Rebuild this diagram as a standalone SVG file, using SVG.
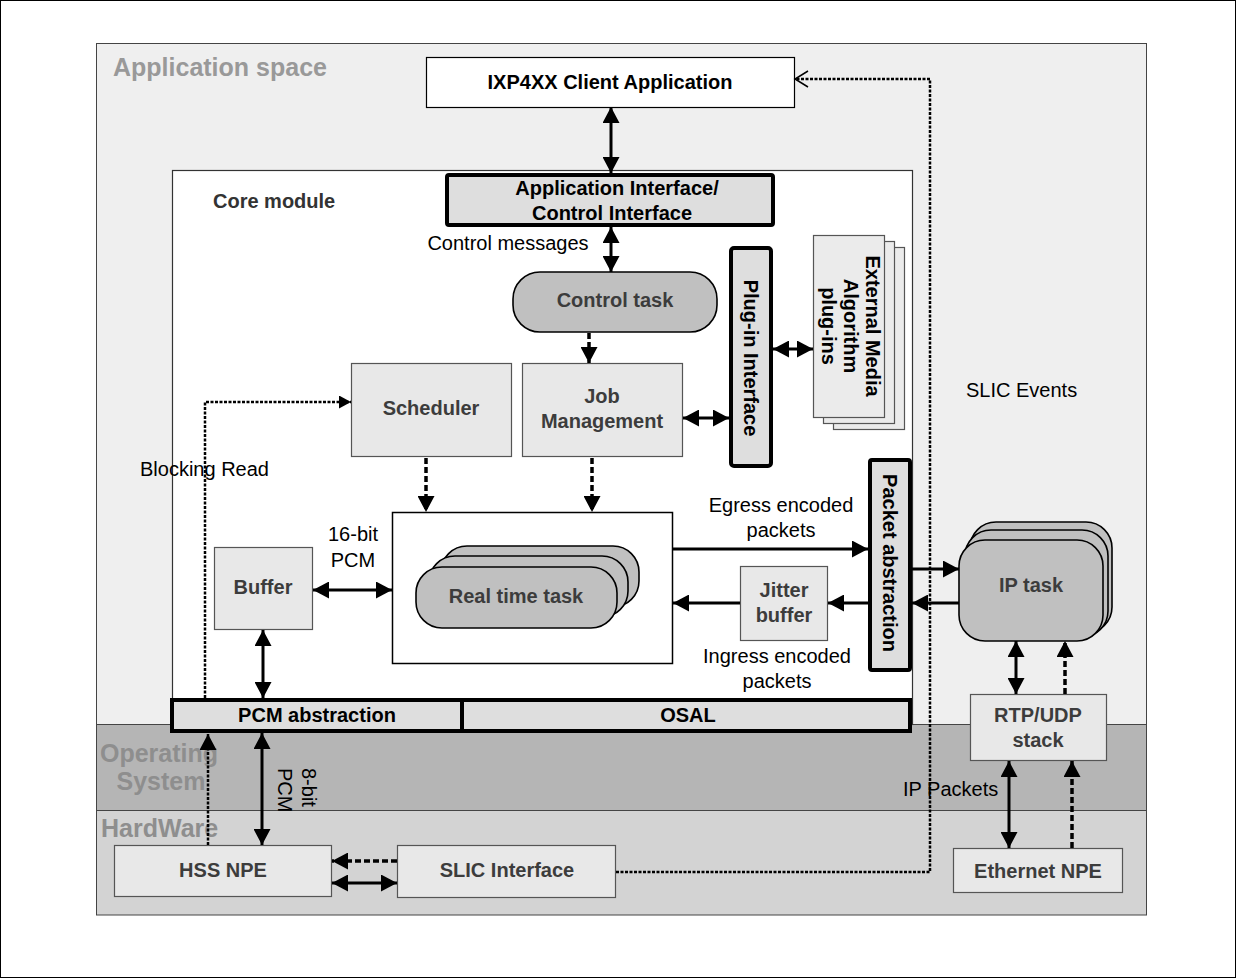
<svg xmlns="http://www.w3.org/2000/svg" width="1236" height="978" viewBox="0 0 1236 978">
  <style>
    .b { font-family: 'Liberation Sans', Arial, sans-serif; font-weight: bold; font-size: 20px; }
    .r { font-family: 'Liberation Sans', Arial, sans-serif; font-size: 20px; fill: #000; }
    .dk { fill: #3c3c3c; }
    .bk { fill: #000; }
    .layer { font-family: 'Liberation Sans', Arial, sans-serif; font-weight: bold; font-size: 25px; fill: #8e8e8e; }
    .box { fill: #e8e8e8; stroke: #555; stroke-width: 1.2; }
    .bar { fill: #dedede; stroke: #000; stroke-width: 4; }
    .task { fill: #c0c0c0; stroke: #000; stroke-width: 1.6; }
    .page { fill: #ebebeb; stroke: #555; stroke-width: 1.2; }
    .solid { fill: none; stroke: #000; stroke-width: 3; }
    .dash { fill: none; stroke: #000; stroke-width: 3.5; stroke-dasharray: 6 3; }
    .dot { fill: none; stroke: #000; stroke-width: 2.5; stroke-dasharray: 3 1.5; }
  </style>
  <defs>
    <marker id="ah" markerUnits="userSpaceOnUse" markerWidth="16" markerHeight="17" viewBox="0 0 16 17" refX="16" refY="8.5" orient="auto-start-reverse">
      <path d="M0,0 L16,8.5 L0,17 z" fill="#000"/>
    </marker>
    <marker id="ahs" markerUnits="userSpaceOnUse" markerWidth="12" markerHeight="13" viewBox="0 0 12 13" refX="12" refY="6.5" orient="auto">
      <path d="M0,0 L12,6.5 L0,13 z" fill="#000"/>
    </marker>
  </defs>

  <!-- page border -->
  <rect x="0.5" y="0.5" width="1235" height="977" fill="#fff" stroke="#000" stroke-width="1"/>

  <!-- layers: application space, operating system, hardware -->
  <g id="layers">
    <rect x="96.5" y="43.5" width="1050" height="681" fill="#efefef"/>
    <rect x="96.5" y="724.5" width="1050" height="86" fill="#b5b5b5"/>
    <rect x="96.5" y="810.5" width="1050" height="104.5" fill="#d3d3d3"/>
    <line x1="96.5" y1="724.5" x2="1146.5" y2="724.5" stroke="#444" stroke-width="1"/>
    <line x1="96.5" y1="810.5" x2="1146.5" y2="810.5" stroke="#444" stroke-width="1"/>
    <rect x="96.5" y="43.5" width="1050" height="871.5" fill="none" stroke="#444" stroke-width="1"/>
    <text class="layer" x="113" y="76" fill="#999" style="fill:#999">Application space</text>
    <text class="layer" x="159" y="762" text-anchor="middle">Operating</text>
    <text class="layer" x="161" y="790" text-anchor="middle">System</text>
    <text class="layer" x="101" y="837">HardWare</text>
  </g>

  <!-- core module frame -->
  <g id="core-module">
    <rect x="172.5" y="170.5" width="740" height="554" fill="#fff" stroke="#333" stroke-width="1.2"/>
    <text class="b" x="213" y="208" fill="#333" font-size="22">Core module</text>
  </g>

  <g id="client-app">
    <rect x="426.5" y="57.5" width="368" height="50" fill="#fff" stroke="#000" stroke-width="1.2"/>
    <text class="b bk" x="610" y="89" text-anchor="middle">IXP4XX Client Application</text>
  </g>

  <g id="app-interface">
    <rect class="bar" x="447" y="175" width="326" height="50" rx="2"/>
    <text class="b bk" x="617" y="195" text-anchor="middle" font-size="21">Application Interface/</text>
    <text class="b bk" x="612" y="220" text-anchor="middle">Control Interface</text>
  </g>

  <g id="control-task">
    <rect class="task" x="513" y="272" width="204" height="60" rx="27"/>
    <text class="b dk" x="615" y="307" text-anchor="middle">Control task</text>
  </g>

  <g id="scheduler">
    <rect class="box" x="351.5" y="363.5" width="160" height="93"/>
    <text class="b dk" x="431" y="415" text-anchor="middle">Scheduler</text>
  </g>

  <g id="job-management">
    <rect class="box" x="522.5" y="363.5" width="160" height="93"/>
    <text class="b dk" x="602" y="403" text-anchor="middle">Job</text>
    <text class="b dk" x="602" y="428" text-anchor="middle">Management</text>
  </g>

  <g id="plugin-interface">
    <rect class="bar" x="731" y="248" width="40" height="218" rx="3"/>
    <text class="b bk" transform="translate(751,358) rotate(90)" x="0" y="7" text-anchor="middle">Plug-in Interface</text>
  </g>

  <g id="external-plugins">
    <rect class="page" x="833.5" y="247.5" width="71" height="182"/>
    <rect class="page" x="823.5" y="241.5" width="71" height="182"/>
    <rect class="page" x="813.5" y="235.5" width="71" height="182"/>
    <g transform="translate(0,326) rotate(90)">
      <text class="b bk" x="0" y="-866" text-anchor="middle">External Media</text>
      <text class="b bk" x="0" y="-844" text-anchor="middle">Algorithm</text>
      <text class="b bk" x="0" y="-822" text-anchor="middle">plug-ins</text>
    </g>
  </g>

  <g id="realtime-tasks">
    <rect x="392.5" y="512.5" width="280" height="151" fill="#fff" stroke="#000" stroke-width="1.5"/>
    <rect class="task" x="441" y="546" width="198" height="61" rx="26"/>
    <rect class="task" x="429" y="556" width="199" height="61" rx="26"/>
    <rect class="task" x="416" y="567" width="201" height="61" rx="26"/>
    <text class="b dk" x="516" y="603" text-anchor="middle">Real time task</text>
  </g>

  <g id="buffer">
    <rect class="box" x="214.5" y="547.5" width="98" height="82"/>
    <text class="b dk" x="263" y="594" text-anchor="middle">Buffer</text>
  </g>

  <g id="jitter-buffer">
    <rect class="box" x="740.5" y="566.5" width="87" height="74"/>
    <text class="b dk" x="784" y="597" text-anchor="middle">Jitter</text>
    <text class="b dk" x="784" y="622" text-anchor="middle">buffer</text>
  </g>

  <g id="packet-abstraction">
    <rect class="bar" x="870" y="460" width="40" height="210" rx="2"/>
    <text class="b bk" transform="translate(890,563) rotate(90)" x="0" y="7" text-anchor="middle">Packet abstraction</text>
  </g>

  <g id="pcm-abstraction">
    <rect class="bar" x="172" y="700" width="290" height="31"/>
    <text class="b bk" x="317" y="722" text-anchor="middle">PCM abstraction</text>
  </g>

  <g id="osal">
    <rect class="bar" x="462" y="700" width="448" height="31"/>
    <text class="b bk" x="688" y="722" text-anchor="middle">OSAL</text>
  </g>

  <g id="ip-task">
    <rect class="task" x="970" y="522" width="142" height="111" rx="26"/>
    <rect class="task" x="965" y="530" width="143" height="107" rx="26"/>
    <rect class="task" x="959" y="540" width="144" height="101" rx="26"/>
    <text class="b dk" x="1031" y="592" text-anchor="middle">IP task</text>
  </g>

  <g id="rtp-udp">
    <rect class="box" x="970.5" y="694.5" width="136" height="66"/>
    <text class="b dk" x="1038" y="722" text-anchor="middle">RTP/UDP</text>
    <text class="b dk" x="1038" y="747" text-anchor="middle">stack</text>
  </g>

  <g id="ethernet-npe">
    <rect class="box" x="953.5" y="848.5" width="169" height="44"/>
    <text class="b dk" x="1038" y="878" text-anchor="middle">Ethernet NPE</text>
  </g>

  <g id="hss-npe">
    <rect class="box" x="114.5" y="845.5" width="217" height="51"/>
    <text class="b dk" x="223" y="877" text-anchor="middle">HSS NPE</text>
  </g>

  <g id="slic-interface">
    <rect class="box" x="397.5" y="845.5" width="218" height="52"/>
    <text class="b dk" x="507" y="877" text-anchor="middle">SLIC Interface</text>
  </g>

  <!-- connectors -->
  <g id="connectors">
    <line class="solid" x1="611" y1="107" x2="611" y2="173" marker-start="url(#ah)" marker-end="url(#ah)"/>
    <line class="solid" x1="611" y1="227" x2="611" y2="272" marker-start="url(#ah)" marker-end="url(#ah)"/>
    <line class="dash" x1="589" y1="333" x2="589" y2="363" marker-end="url(#ah)"/>
    <line class="solid" x1="683" y1="418" x2="729" y2="418" marker-start="url(#ah)" marker-end="url(#ah)"/>
    <line class="solid" x1="773" y1="349" x2="813" y2="349" marker-start="url(#ah)" marker-end="url(#ah)"/>
    <line class="dash" x1="426" y1="458" x2="426" y2="512" marker-end="url(#ah)"/>
    <line class="dash" x1="592" y1="458" x2="592" y2="512" marker-end="url(#ah)"/>
    <line class="solid" x1="313" y1="590" x2="392" y2="590" marker-start="url(#ah)" marker-end="url(#ah)"/>
    <line class="solid" x1="263" y1="630" x2="263" y2="698" marker-start="url(#ah)" marker-end="url(#ah)"/>
    <line class="solid" x1="673" y1="549" x2="868" y2="549" marker-end="url(#ah)"/>
    <line class="solid" x1="868" y1="603" x2="828" y2="603" marker-end="url(#ah)"/>
    <line class="solid" x1="740" y1="603" x2="673" y2="603" marker-end="url(#ah)"/>
    <line class="solid" x1="912" y1="569" x2="959" y2="569" marker-end="url(#ah)"/>
    <line class="solid" x1="959" y1="603" x2="912" y2="603" marker-end="url(#ah)"/>
    <line class="solid" x1="1016" y1="641" x2="1016" y2="694" marker-start="url(#ah)" marker-end="url(#ah)"/>
    <line class="dash" x1="1065" y1="694" x2="1065" y2="641" marker-end="url(#ah)"/>
    <line class="solid" x1="1009" y1="761" x2="1009" y2="848" marker-start="url(#ah)" marker-end="url(#ah)"/>
    <line class="dash" x1="1072" y1="848" x2="1072" y2="761" marker-end="url(#ah)"/>
    <line class="dash" x1="397" y1="861" x2="332" y2="861" marker-end="url(#ah)"/>
    <line class="solid" x1="332" y1="883" x2="397" y2="883" marker-start="url(#ah)" marker-end="url(#ah)"/>
    <line class="solid" x1="262" y1="733" x2="262" y2="845" marker-start="url(#ah)" marker-end="url(#ah)"/>
    <line class="dot" x1="208" y1="845" x2="208" y2="734" marker-end="url(#ah)"/>
    <path class="dot" d="M205,698 V402 H351" marker-end="url(#ahs)"/>
    <path class="dot" d="M616,872 H930 V79 H796"/>
    <path d="M808,71 L795,79 L808,87" fill="none" stroke="#000" stroke-width="1.5"/>
  </g>

  <!-- connector labels -->
  <g id="labels">
    <text class="r" x="508" y="250" text-anchor="middle">Control messages</text>
    <text class="r" x="140" y="476">Blocking Read</text>
    <text class="r" x="353" y="541" text-anchor="middle">16-bit</text>
    <text class="r" x="353" y="567" text-anchor="middle">PCM</text>
    <text class="r" x="781" y="512" text-anchor="middle">Egress encoded</text>
    <text class="r" x="781" y="537" text-anchor="middle">packets</text>
    <text class="r" x="777" y="663" text-anchor="middle">Ingress encoded</text>
    <text class="r" x="777" y="688" text-anchor="middle">packets</text>
    <text class="r" x="966" y="397">SLIC Events</text>
    <text class="r" x="903" y="796">IP Packets</text>
    <g transform="translate(0,768) rotate(90)">
      <text class="r" x="0" y="-302">8-bit</text>
      <text class="r" x="0" y="-278">PCM</text>
    </g>
  </g>
</svg>
